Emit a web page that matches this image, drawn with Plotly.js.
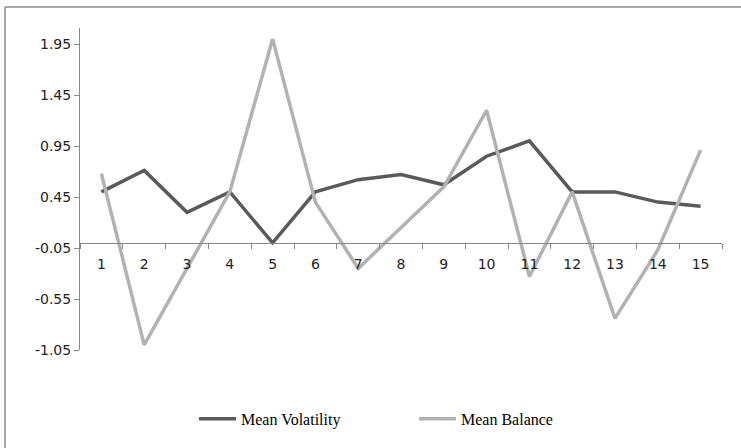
<!DOCTYPE html>
<html>
<head>
<meta charset="utf-8">
<script src="https://cdn.plot.ly/plotly-3.0.1.min.js"></script>
<style>html,body{margin:0;padding:0;background:#fff;}#chart{width:741px;height:448px;}</style>
</head>
<body>
<div id="chart"></div>
<script>
var categories = ["1","2","3","4","5","6","7","8","9","10","11","12","13","14","15"];
var meanVolatility = [0.50, 0.71, 0.30, 0.50, 0.00, 0.50, 0.62, 0.67, 0.57, 0.85, 1.00, 0.50, 0.50, 0.40, 0.36];
var meanBalance = [0.68, -1.00, -0.25, 0.50, 2.00, 0.40, -0.25, 0.15, 0.55, 1.30, -0.33, 0.50, -0.74, -0.07, 0.91];
var yTickVals = [-1.05, -0.55, -0.05, 0.45, 0.95, 1.45, 1.95];
var yTickText = ["-1.05", "-0.55", "-0.05", "0.45", "0.95", "1.45", "1.95"];
var seriesNames = ["Mean Volatility", "Mean Balance"];

var yMin = -1.05, yMax = 2.107;
var traces = [
  {x: categories, y: meanVolatility, name: seriesNames[0], type: "scatter", mode: "lines",
   line: {color: "#5a5a5a", width: 3.5}},
  {x: categories, y: meanBalance, name: seriesNames[1], type: "scatter", mode: "lines",
   line: {color: "#b2b2b2", width: 3.5}}
];
var axisColor = "#888888";
var layout = {
  width: 741, height: 448,
  margin: {l: 80, r: 19, t: 28, b: 98},
  paper_bgcolor: "#ffffff", plot_bgcolor: "#ffffff",
  showlegend: true,
  legend: {orientation: "h", x: 0.1776, xanchor: "left", y: -0.214, yanchor: "middle",
           itemwidth: 37, entrywidth: 168, entrywidthmode: "pixels",
           font: {family: "'Liberation Serif', 'Times New Roman', serif", size: 16, color: "#000"}},
  xaxis: {type: "category", range: [-0.5, 14.5], anchor: "free", position: (0 - yMin) / (yMax - yMin),
          showline: true, linecolor: axisColor, linewidth: 1, showgrid: false, zeroline: false,
          ticks: "outside", ticklen: 5, tickcolor: axisColor, tickson: "boundaries",
          ticklabelstandoff: 8,
          tickfont: {family: "DejaVu Sans, sans-serif", size: 14, color: "#222"}, fixedrange: true},
  yaxis: {range: [yMin, yMax], tickvals: yTickVals, ticktext: yTickText,
          showline: true, linecolor: axisColor, linewidth: 1, showgrid: false, zeroline: false,
          ticks: "outside", ticklen: 5, tickcolor: axisColor,
          tickfont: {family: "DejaVu Sans, sans-serif", size: 14, color: "#222"}, fixedrange: true},
  shapes: [
    {type: "line", xref: "paper", yref: "paper", x0: -0.1168, x1: 1.2, y0: 1.0652, y1: 1.0652,
     line: {color: "#888888", width: 1.5}},
    {type: "line", xref: "paper", yref: "paper", x0: -0.1168, x1: -0.1168, y0: 1.0652, y1: -0.5,
     line: {color: "#888888", width: 1.5}}
  ]
};
Plotly.newPlot("chart", traces, layout, {displayModeBar: false, staticPlot: true});
</script>
</body>
</html>
